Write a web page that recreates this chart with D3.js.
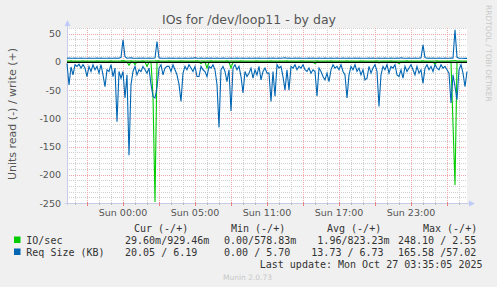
<!DOCTYPE html>
<html>
<head>
<meta charset="utf-8">
<script src="https://cdn.jsdelivr.net/npm/d3@7"></script>
<style>
body { margin: 0; background: #f0f0f0; }
svg { display: block; }
text { font-family: "DejaVu Sans", sans-serif; }
.mono { font-family: "DejaVu Sans Mono", monospace; font-size: 10px; fill: #333; white-space: pre; }
</style>
</head>
<body>
<svg id="chart" width="497" height="287"></svg>
<script>
// time axis: hours relative to Sun 00:00, one sample every 10 minutes
const startHour = -56 / 12
const stepHour = 1 / 6
const hourTicks = [0, 6, 12, 18, 24]
const hourLabels = ["Sun 00:00", "Sun 05:00", "Sun 11:00", "Sun 17:00", "Sun 23:00"]
const yTicks = [50, 0, -50, -100, -150, -200, -250]

// Req Size (KB), read side (drawn negative)
const reqRead = [
  3, 41, 9, 23, 5, 8, 4, 11, 5, 11, 26, 8, 17, 5, 14, 8, 20, 5, 23, 44,
  14, 17, 5, 26, 11, 106, 17, 29, 17, 64, 23, 165.6, 40, 17, 8, 23, 14, 17, 8, 14,
  20, 11, 40, 61, 64, 45, 11, 5, 23, 11, 8, 8, 17, 5, 14, 23, 40, 70, 20, 8,
  14, 5, 11, 17, 8, 26, 26, 8, 14, 17, 26, 8, 11, 5, 14, 40, 116, 14, 8, 17,
  35, 14, 87, 11, 5, 14, 8, 26, 55, 17, 26, 20, 11, 29, 14, 23, 8, 32, 17, 11,
  20, 20, 70, 17, 61, 5, 11, 8, 26, 50, 14, 50, 8, 11, 5, 14, 8, 11, 5, 14,
  17, 11, 20, 14, 17, 61, 11, 17, 26, 32, 20, 35, 14, 5, 11, 8, 14, 5, 17, 23,
  64, 23, 8, 14, 5, 17, 11, 23, 14, 32, 29, 8, 20, 11, 5, 17, 79, 23, 8, 14,
  5, 20, 8, 11, 5, 23, 26, 14, 29, 8, 17, 11, 5, 14, 23, 8, 20, 14, 38, 11,
  5, 14, 8, 17, 5, 11, 14, 5, 11, 8, 14, 20, 73, 23, 44, 67, 14, 5, 20, 44,
  17
]
// Req Size (KB), write side
const reqWrite = [
  6.5, 6.6, 6.4, 6.5, 6.7, 6.5, 6.4, 6.6, 6.5, 6.5, 6.4, 6.8, 6.5, 6.5, 6.3, 6.6, 6.5, 6.9, 6.5, 6.4,
  6.5, 6.6, 6.5, 6.4, 6.7, 6.5, 6.6, 8.0, 39, 9.0, 6.5, 6.8, 7.0, 6.6, 6.5, 6.4, 6.6, 6.5, 6.7, 6.5,
  6.5, 6.6, 6.4, 6.5, 6.9, 36, 7.2, 6.6, 6.5, 6.4, 6.5, 6.6, 6.5, 6.8, 6.5, 6.4, 6.6, 6.5, 6.5, 6.7,
  6.5, 6.4, 6.6, 6.5, 7.5, 6.5, 6.4, 6.6, 6.5, 6.5, 6.6, 6.5, 6.7, 6.5, 6.4, 6.6, 6.5, 6.5, 6.8, 6.5,
  6.5, 6.4, 6.6, 6.5, 6.5, 6.7, 6.5, 6.4, 6.6, 6.5, 6.5, 6.6, 6.5, 6.4, 6.7, 6.5, 6.6, 6.5, 6.5, 6.4,
  6.5, 6.6, 6.5, 6.8, 6.5, 6.4, 6.6, 6.5, 6.9, 7.3, 6.5, 6.6, 6.5, 6.4, 6.7, 6.5, 6.6, 6.5, 6.5, 6.4,
  6.5, 6.6, 6.5, 6.8, 6.5, 6.4, 6.6, 6.5, 6.5, 6.7, 6.5, 6.4, 6.6, 6.5, 6.5, 6.7, 6.5, 6.4, 6.6, 6.5,
  6.5, 6.6, 6.5, 6.4, 6.7, 6.5, 6.6, 6.5, 6.5, 6.4, 6.5, 6.6, 6.5, 6.8, 6.5, 6.4, 6.6, 6.5, 6.5, 6.7,
  6.5, 6.4, 6.6, 6.5, 6.5, 6.7, 6.5, 7.4, 6.6, 6.5, 6.5, 6.6, 6.5, 6.4, 6.7, 6.5, 6.6, 6.9, 30, 7.5,
  6.5, 6.6, 6.5, 6.8, 6.5, 6.4, 6.6, 6.5, 6.5, 6.7, 6.5, 6.4, 6.6, 6.5, 57, 8.0, 6.5, 6.4, 6.3, 6.2,
  6.2
]
// IO/sec, read side (drawn negative)
const ioRead = [
  0.2, 0.2, 0.3, 0.2, 0.2, 0.2, 0.3, 0.2, 0.2, 0.2, 0.2, 0.3, 0.2, 0.2, 0.2, 0.2, 0.3, 0.2, 0.2, 0.4,
  0.2, 0.2, 0.2, 0.3, 0.2, 0.6, 0.2, 0.3, 0.2, 0.4, 0.2, 6, 0.4, 0.2, 5, 0.3, 0.2, 0.2, 0.2, 0.2,
  8, 0.2, 0.4, 60, 248.1, 0.5, 0.2, 0.2, 0.3, 0.2, 0.2, 0.2, 0.2, 0.2, 0.2, 0.3, 0.3, 0.5, 0.2, 0.2,
  0.2, 0.2, 0.2, 0.2, 0.2, 0.3, 0.3, 3, 0.2, 0.2, 11, 0.2, 0.2, 0.2, 0.2, 0.4, 0.8, 0.2, 0.2, 0.2,
  0.3, 0.2, 11, 0.2, 0.2, 0.2, 0.2, 0.3, 0.4, 0.2, 0.3, 0.2, 0.2, 0.3, 0.2, 0.2, 0.2, 0.3, 0.2, 0.2,
  0.2, 0.2, 0.5, 0.2, 0.4, 0.2, 0.2, 0.2, 0.3, 0.4, 0.2, 0.4, 0.2, 0.2, 0.2, 0.2, 0.2, 0.2, 0.2, 0.2,
  0.2, 0.2, 0.2, 0.2, 3, 0.4, 0.2, 0.2, 0.3, 0.3, 0.2, 0.3, 0.2, 0.2, 0.2, 0.2, 0.2, 0.2, 0.2, 0.2,
  0.5, 0.2, 0.2, 0.2, 0.2, 0.2, 0.2, 0.2, 0.2, 0.3, 0.3, 0.2, 0.2, 0.2, 0.2, 0.2, 2, 0.2, 0.2, 0.2,
  0.2, 0.2, 0.2, 0.2, 0.2, 0.2, 3, 0.2, 0.3, 0.2, 0.2, 0.2, 0.2, 0.2, 0.2, 0.2, 0.2, 0.2, 0.3, 0.2,
  0.2, 0.2, 0.2, 0.2, 4, 0.2, 0.2, 0.2, 0.2, 0.2, 0.2, 0.2, 0.5, 110, 218, 0.6, 0.2, 0.2, 0.2, 0.3,
  0.2
]
// IO/sec, write side
const ioWrite = [
  1.6, 1.6, 1.7, 1.6, 1.6, 1.5, 1.6, 1.6, 1.7, 1.6, 1.6, 1.6, 1.5, 1.6, 1.6, 1.7, 1.6, 1.6, 1.6, 1.5,
  1.6, 1.6, 1.7, 1.6, 1.6, 1.6, 1.6, 1.8, 2.2, 1.8, 1.6, 1.6, 1.7, 1.6, 1.6, 1.5, 1.6, 1.6, 1.7, 1.6,
  1.6, 1.6, 1.5, 1.6, 1.8, 2.1, 1.7, 1.6, 1.6, 1.6, 1.6, 1.7, 1.6, 1.6, 1.5, 1.6, 1.6, 1.7, 1.6, 1.6,
  1.6, 1.6, 1.5, 1.6, 1.6, 1.7, 1.6, 1.6, 1.6, 1.5, 1.6, 1.6, 1.7, 1.6, 1.6, 1.6, 1.6, 1.5, 1.6, 1.6,
  1.7, 1.6, 1.6, 1.6, 1.5, 1.6, 1.6, 1.7, 1.6, 1.6, 1.6, 1.6, 1.5, 1.6, 1.6, 1.7, 1.6, 1.6, 1.6, 1.5,
  1.6, 1.6, 1.7, 1.6, 1.6, 1.6, 1.6, 1.5, 1.6, 1.6, 1.7, 1.6, 1.6, 1.6, 1.5, 1.6, 1.6, 1.7, 1.6, 1.6,
  1.6, 1.6, 1.5, 1.6, 1.6, 1.7, 1.6, 1.6, 1.6, 1.5, 1.6, 1.6, 1.7, 1.6, 1.6, 1.6, 1.6, 1.5, 1.6, 1.6,
  1.7, 1.6, 1.6, 1.6, 1.5, 1.6, 1.6, 1.7, 1.6, 1.6, 1.6, 1.6, 1.5, 1.6, 1.6, 1.7, 1.6, 1.6, 1.6, 1.5,
  1.6, 1.6, 1.7, 1.6, 1.6, 1.6, 1.6, 1.5, 1.6, 1.6, 1.7, 1.6, 1.6, 1.6, 1.5, 1.6, 1.6, 1.7, 2.0, 1.6,
  1.6, 1.6, 1.5, 1.6, 1.6, 1.7, 1.6, 1.6, 1.6, 1.5, 1.6, 1.6, 1.7, 1.8, 2.5, 1.7, 1.6, 1.6, 1.6, 1.5,
  1.6
]

// legend
const legendNames = ["IO/sec", "Req Size (KB)"]
const legendHeads = ["Cur (-/+)", "Min (-/+)", "Avg (-/+)", "Max (-/+)"]
const curVals = [[0.02960, 0.92946], [20.05, 6.19]]
const minVals = [[0, 0.57883], [0, 5.70]]
const avgVals = [[1.96, 0.82323], [13.73, 6.73]]
const maxVals = [[248.10, 2.55], [165.58, 57.02]]
const lastUpdate = "Last update: Mon Oct 27 03:35:05 2025"

const colors = ["#00cc00", "#0066b3"]

const svg = d3.select("#chart")
const pLeft = 67, pRight = 467, pTop = 28, pBottom = 203

const x = d3.scaleLinear().domain([startHour, startHour + 200 * stepHour]).range([pLeft, pRight])
const y = d3.scaleLinear().domain([-250, 60]).range([pBottom, pTop])

// plot background
svg.append("rect").attr("x", pLeft).attr("y", pTop).attr("width", pRight - pLeft).attr("height", pBottom - pTop).attr("fill", "#fff")

// grid
const grid = svg.append("g").attr("shape-rendering", "crispEdges")
d3.range(-240, 61, 10).filter(v => v % 50 !== 0).forEach(v => {
    grid.append("line").attr("x1", pLeft).attr("x2", pRight).attr("y1", Math.round(y(v)) + 0.5).attr("y2", Math.round(y(v)) + 0.5)
        .attr("stroke", "#d0d0d0").attr("stroke-dasharray", "1,1")
})
d3.range(-4, 29, 1).filter(h => h % 3 !== 0).forEach(h => {
    grid.append("line").attr("y1", pTop).attr("y2", pBottom).attr("x1", Math.round(x(h)) + 0.5).attr("x2", Math.round(x(h)) + 0.5)
        .attr("stroke", "#d0d0d0").attr("stroke-dasharray", "1,1")
})
yTicks.forEach(v => {
    grid.append("line").attr("x1", pLeft).attr("x2", pRight).attr("y1", Math.round(y(v)) + 0.5).attr("y2", Math.round(y(v)) + 0.5)
        .attr("stroke", "#f0a8a8").attr("stroke-dasharray", "1,1")
})
d3.range(-3, 29, 3).forEach(h => {
    grid.append("line").attr("y1", pTop).attr("y2", pBottom).attr("x1", Math.round(x(h)) + 0.5).attr("x2", Math.round(x(h)) + 0.5)
        .attr("stroke", "#f0a8a8").attr("stroke-dasharray", "1,1")
})

// axes with arrows
const axisCol = "#c8cce8"
svg.append("line").attr("x1", pLeft + 0.5).attr("x2", pLeft + 0.5).attr("y1", pBottom + 2).attr("y2", pTop - 5).attr("stroke", axisCol)
svg.append("line").attr("x1", pLeft - 2).attr("x2", pRight + 5).attr("y1", pBottom + 0.5).attr("y2", pBottom + 0.5).attr("stroke", axisCol)
svg.append("path").attr("d", `M${pLeft - 2.5},${pTop - 2}L${pLeft + 0.5},${pTop - 8}L${pLeft + 3.5},${pTop - 2}Z`).attr("fill", "#c0ccf8")
svg.append("path").attr("d", `M${pRight + 2},${pBottom - 2.5}L${pRight + 8},${pBottom + 0.5}L${pRight + 2},${pBottom + 3.5}Z`).attr("fill", "#c0ccf8")
d3.range(-3, 29, 3).forEach(h => {
    svg.append("line").attr("x1", Math.round(x(h)) + 0.5).attr("x2", Math.round(x(h)) + 0.5).attr("y1", pBottom - 1).attr("y2", pBottom + 3)
        .attr("stroke", "#f08080")
})
d3.range(-4, 29, 1).filter(h => h % 3 !== 0).forEach(h => {
    svg.append("line").attr("x1", Math.round(x(h)) + 0.5).attr("x2", Math.round(x(h)) + 0.5).attr("y1", pBottom).attr("y2", pBottom + 2)
        .attr("stroke", "#bbb")
})

// tick labels
svg.append("g").selectAll("text").data(yTicks).join("text")
    .attr("x", 61).attr("y", d => y(d) + 3.5).attr("text-anchor", "end")
    .attr("font-size", "9.5px").attr("fill", "#555").text(d => d)
svg.append("g").selectAll("text").data(hourTicks).join("text")
    .attr("x", d => x(d)).attr("y", 216).attr("text-anchor", "middle")
    .attr("font-size", "9.5px").attr("fill", "#555").text((d, i) => hourLabels[i])

// series
const line = d3.line().x((d, i) => x(startHour + i * stepHour)).y(d => y(d))
const series = [
    { data: ioRead.map(v => -v), col: colors[0] },
    { data: ioWrite, col: colors[0] },
    { data: reqRead.map(v => -v), col: colors[1] },
    { data: reqWrite, col: colors[1] }
]
series.forEach(s => {
    svg.append("path").attr("d", line(s.data)).attr("fill", "none")
        .attr("stroke", s.col).attr("stroke-width", 1.1)
})
// zero line
svg.append("line").attr("x1", pLeft).attr("x2", pRight).attr("y1", y(0) + 0.5).attr("y2", y(0) + 0.5)
    .attr("stroke", "#000").attr("stroke-width", 1.1)

// titles
svg.append("text").attr("x", 249).attr("y", 23.5).attr("text-anchor", "middle")
    .attr("font-size", "12.5px").attr("fill", "#555").text("IOs for /dev/loop11 - by day")
svg.append("text").attr("transform", "translate(15.5,114) rotate(-90)").attr("text-anchor", "middle")
    .attr("font-size", "11px").attr("fill", "#555").text("Units read (-) / write (+)")
svg.append("text").attr("transform", "translate(486,5) rotate(90)").attr("text-anchor", "start")
    .attr("font-size", "7.5px").attr("fill", "#c8c8c8").text("RRDTOOL / TOBI OETIKER")

// legend
const headX = [134, 231, 327, 423]
const colX = [119, 212, 305.3, 398]
const rowY = [243.5, 255.5]
const fmt = v => {
    if (v !== 0 && Math.abs(v) < 1) return (v * 1000).toFixed(2).padStart(6) + "m"
    return v.toFixed(2).padStart(6) + " "
}
legendHeads.forEach((h, i) => {
    svg.append("text").attr("class", "mono").attr("x", headX[i]).attr("y", 231.5).text(h)
})
const cols = [curVals, minVals, avgVals, maxVals]
legendNames.forEach((name, r) => {
    svg.append("rect").attr("x", 14).attr("y", rowY[r] - 7).attr("width", 6.5).attr("height", 6.5).attr("fill", colors[r])
    svg.append("text").attr("class", "mono").attr("x", 26.3).attr("y", rowY[r]).text(name)
    cols.forEach((vals, c) => {
        // rrdtool puts "/" on the first char of the write value; squeeze one pad space out instead
        let neg = fmt(vals[r][0])
        let pos = fmt(vals[r][1]).trimEnd()
        if (pos.startsWith(" ")) pos = pos.slice(1)
        else if (neg.endsWith(" ")) neg = neg.slice(0, -1)
        svg.append("text").attr("class", "mono").attr("x", colX[c]).attr("y", rowY[r])
            .text(neg + "/" + pos)
    })
})
svg.append("text").attr("class", "mono").attr("x", 482.5).attr("y", 267.5).attr("text-anchor", "end").text(lastUpdate)
svg.append("text").attr("x", 247.5).attr("y", 279.5).attr("text-anchor", "middle")
    .attr("font-size", "7.5px").attr("fill", "#c8c8c8").text("Munin 2.0.73")
</script>
</body>
</html>
